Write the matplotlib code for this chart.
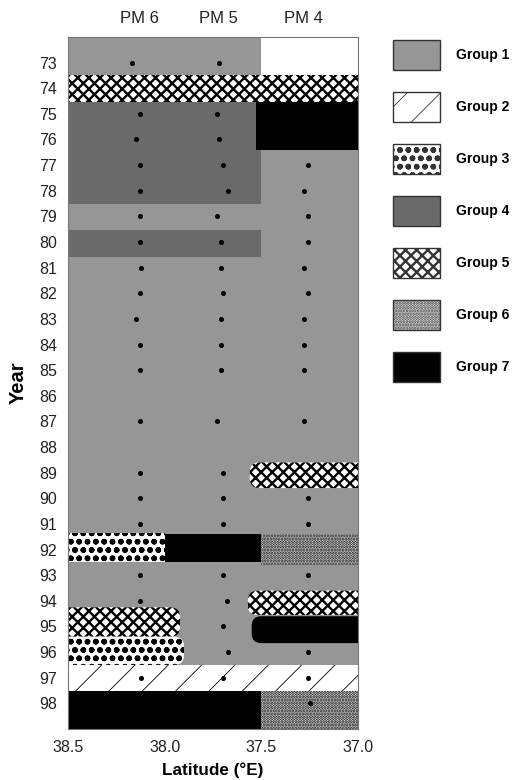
import matplotlib
matplotlib.use('Agg')
import matplotlib.pyplot as plt
from matplotlib.patches import Rectangle, Patch, FancyBboxPatch

plt.rcParams['font.family'] = ['Liberation Sans', 'DejaVu Sans']

# study area
lat_min, lat_max = 37.0, 38.5
year_min, year_max = 72.0, 99.0

years = list(range(73, 99))

# group styles
group_labels = ['Group 1', 'Group 2', 'Group 3', 'Group 4', 'Group 5', 'Group 6', 'Group 7']
group_face = ['#969696', 'white', 'white', '#6a6a6a', 'white', 'white', 'black']
group_hatch = [None, '/', 'oo', None, 'xxx', '......', None]
group_hatch_lw = [1.0, 0.6, 1.7, 1.0, 1.7, 1.5, 1.0]

# patches of the map (group index 1..7, 0 = no data), rounded ends where drawn so
seg_group = [0, 5, 4, 7, 4, 5, 3, 7, 6, 5, 5, 7, 3, 2, 7, 6]
seg_lat0 = [37.5, 38.5, 38.5, 37.53, 38.5, 37.56, 38.5, 38.0, 37.5, 37.57, 38.5, 37.55, 38.5, 38.5, 38.5, 37.5]
seg_lat1 = [37.0, 37.0, 37.5, 37.0, 37.5, 37.0, 38.0, 37.5, 37.0, 37.0, 37.92, 37.0, 37.9, 37.0, 37.5, 37.0]
seg_y0 = [72.0, 73.5, 74.55, 74.55, 79.55, 88.6, 91.35, 91.4, 91.4, 93.6, 94.25, 94.6, 95.4, 96.5, 97.5, 97.5]
seg_y1 = [73.5, 74.55, 78.5, 76.4, 80.6, 89.6, 92.5, 92.5, 92.6, 94.55, 95.4, 95.65, 96.5, 97.5, 99.0, 99.0]
seg_round = [False, False, False, False, False, True, False, False, False, True, True, True, True,
             False, False, False]

# sampling stations
pm_names = ['PM 6', 'PM 5', 'PM 4']
pm_lat = [38.13, 37.72, 37.28]
pm6_years = [73, 75, 76, 77, 78, 79, 80, 81, 82, 83, 84, 85, 87, 89, 90, 91, 93, 94, 97]
pm6_lat = [38.17, 38.13, 38.15, 38.13, 38.13, 38.13, 38.13, 38.12, 38.13, 38.15, 38.13, 38.13,
           38.13, 38.13, 38.13, 38.13, 38.13, 38.13, 38.12]
pm5_years = [73, 75, 76, 77, 78, 79, 80, 81, 82, 83, 84, 85, 87, 89, 90, 91, 93, 94, 95, 96, 97]
pm5_lat = [37.72, 37.73, 37.72, 37.70, 37.67, 37.73, 37.71, 37.71, 37.70, 37.71, 37.71, 37.71,
           37.73, 37.70, 37.70, 37.70, 37.70, 37.68, 37.70, 37.67, 37.70]
pm4_years = [77, 78, 79, 80, 81, 82, 83, 84, 85, 87, 90, 91, 93, 96, 97, 98]
pm4_lat = [37.26, 37.28, 37.26, 37.26, 37.28, 37.26, 37.28, 37.28, 37.28, 37.28, 37.26, 37.26,
           37.26, 37.26, 37.26, 37.25]


def set_hlw(p, lw):
    if hasattr(p, 'set_hatch_linewidth'):
        p.set_hatch_linewidth(lw)
    else:
        p._hatch_linewidth = lw


fig = plt.figure(figsize=(5.23, 7.80), dpi=100)
ax = fig.add_axes([0.130, 0.0654, 0.5545, 0.8872])

ax.add_patch(Rectangle((lat_min, year_min), lat_max - lat_min, year_max - year_min,
                       facecolor=group_face[0], edgecolor='none', zorder=1))

for g, a, b, y0, y1, rnd in zip(seg_group, seg_lat0, seg_lat1, seg_y0, seg_y1, seg_round):
    if g == 0:
        face, hatch, hlw = 'white', None, 1.0
    else:
        face, hatch, hlw = group_face[g - 1], group_hatch[g - 1], group_hatch_lw[g - 1]
    lo, hi = min(a, b), max(a, b)
    if rnd:
        # push the end sitting on the frame outside, so only the inner end shows rounded
        if lo <= lat_min:
            lo -= 0.1
        if hi >= lat_max:
            hi += 0.1
        r = FancyBboxPatch((lo, y0), hi - lo, y1 - y0, boxstyle='round,pad=0,rounding_size=0.05',
                           mutation_aspect=7.5, facecolor=face, edgecolor='black', linewidth=0,
                           hatch=hatch, zorder=2)
    else:
        r = Rectangle((lo, y0), hi - lo, y1 - y0, facecolor=face,
                      edgecolor='black', linewidth=0, hatch=hatch, zorder=2)
    set_hlw(r, hlw)
    ax.add_patch(r)

for yrs, lats in [(pm6_years, pm6_lat), (pm5_years, pm5_lat), (pm4_years, pm4_lat)]:
    ax.plot(lats, yrs, 'o', color='black', markersize=2.6, zorder=3)

ax.set_xlim(lat_max, lat_min)
ax.set_ylim(year_max, year_min)
ax.set_xticks([38.5, 38.0, 37.5, 37.0])
ax.set_xticklabels(['38.5', '38.0', '37.5', '37.0'])
ax.set_yticks(years)
ax.tick_params(length=0, labelsize=11.5, colors='#222222', pad=8)
for s in ax.spines.values():
    s.set_color('#777777')
    s.set_linewidth(0.8)

for name, lat in zip(pm_names, pm_lat):
    ax.text(lat, 71.26, name, ha='center', va='center', fontsize=12, color='#222222')

ax.set_ylabel('Year', fontsize=14.5, fontweight='bold', labelpad=8)
ax.set_xlabel('Latitude (°E)', fontsize=12.3, fontweight='bold', labelpad=5)

handles = [Patch(facecolor=group_face[i], edgecolor='#333333', linewidth=1.0, hatch=group_hatch[i])
           for i in range(7)]
leg = fig.legend(handles, group_labels, loc='upper left', bbox_to_anchor=(393 / 523, 1 - 40 / 780),
                 frameon=False, borderpad=0, borderaxespad=0, handlelength=3.4, handleheight=2.95,
                 labelspacing=1.58, handletextpad=1.1,
                 prop={'weight': 'bold', 'size': 10})
for p, lw in zip(leg.get_patches(), group_hatch_lw):
    set_hlw(p, lw)

fig.savefig('out.png', dpi=100)
